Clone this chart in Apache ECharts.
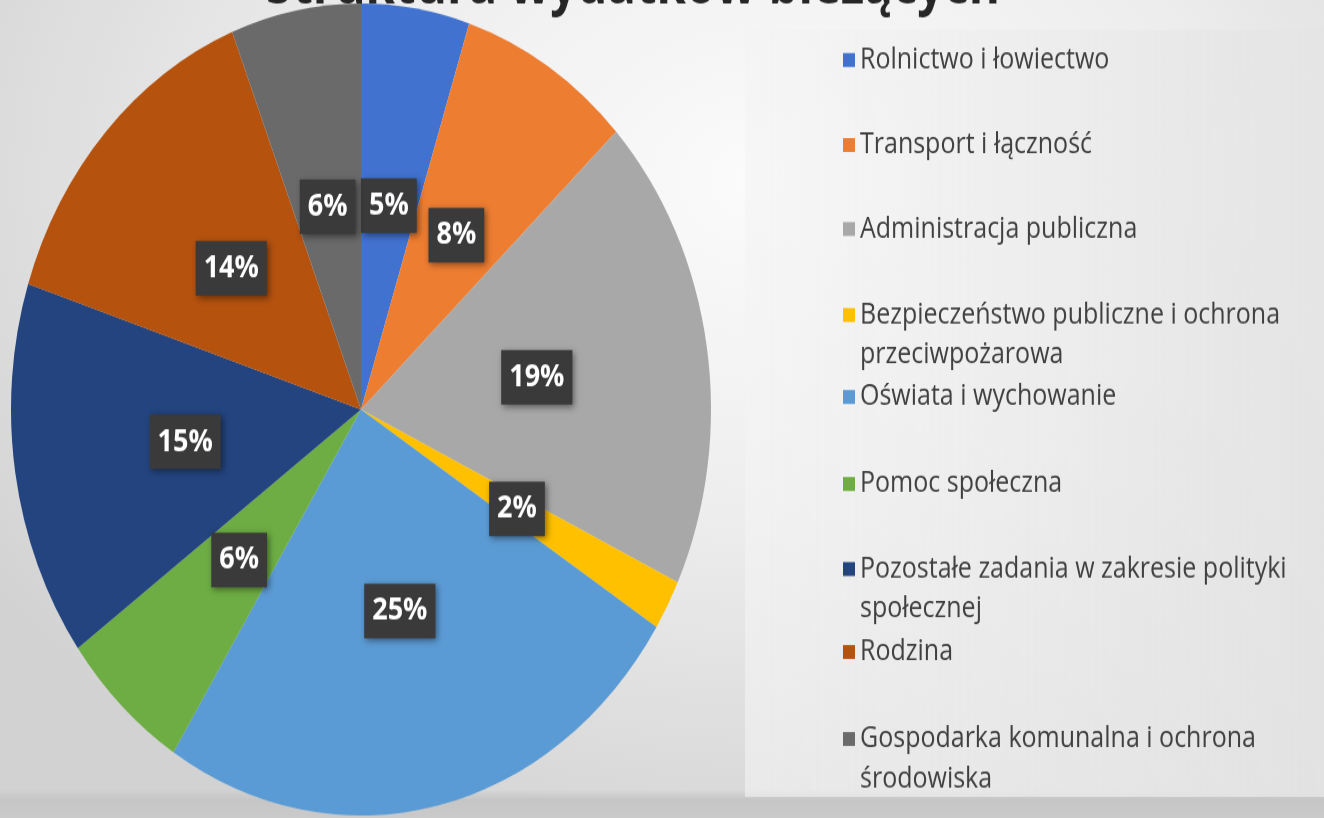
<!DOCTYPE html>
<html><head><meta charset="utf-8">
<script src="https://cdn.jsdelivr.net/npm/echarts@6/dist/echarts.min.js"></script>
<style>
html,body{margin:0;padding:0;width:1324px;height:818px;overflow:hidden;}
body{background:
  linear-gradient(to bottom, rgba(200,200,200,0) 0px, rgba(200,200,200,0) 790px, rgba(196,196,196,0.9) 800px, rgba(200,200,200,0.9) 818px),
  radial-gradient(ellipse 950px 720px at 58% 22%, #fbfbfb 0%, #eeeeee 45%, #d2d2d2 100%);}
#c{position:absolute;left:0;top:0;width:1324px;height:706px;transform:scaleY(1.16);transform-origin:0 0;}
</style></head><body><div id="c"></div>
<script>
const categories = [
  'Rolnictwo i łowiectwo',
  'Transport i łączność',
  'Administracja publiczna',
  'Bezpieczeństwo publiczne i ochrona przeciwpożarowa',
  'Oświata i wychowanie',
  'Pomoc społeczna',
  'Pozostałe zadania w zakresie polityki społecznej',
  'Rodzina',
  'Gospodarka komunalna i ochrona środowiska'
];
const values = [5, 8, 19, 2, 25, 6, 15, 14, 6];
const legendLabels = [
  'Rolnictwo i łowiectwo',
  'Transport i łączność',
  'Administracja publiczna',
  'Bezpieczeństwo publiczne i ochrona\nprzeciwpożarowa',
  'Oświata i wychowanie',
  'Pomoc społeczna',
  'Pozostałe zadania w zakresie polityki\nspołecznej',
  'Rodzina',
  'Gospodarka komunalna i ochrona\nśrodowiska'
];
const titleText = 'Struktura wydatków bieżących';
const colors = ['#4172D0','#ED7D31','#A8A8A8','#FFC000','#5B9BD5','#6DAD43','#23447F','#B5520E','#6A6A6A'];

// layout (screen px of reference, vertical stretch S applied by CSS)
const S = 1.16;
const legendFirstLine = [60, 145, 229, 315, 397, 484, 569, 652, 739];
const L = 40 / S;

const chart = echarts.init(document.getElementById('c'), null, {renderer: 'canvas'});

const legends = categories.map((name, i) => {
  const lines = legendLabels[i].split('\n').length;
  const c = legendFirstLine[i] / S;
  return {
    show: true,
    orient: 'vertical',
    left: 843,
    top: c - (lines === 1 ? L / 2 : 1.5 * L),
    padding: 0,
    itemWidth: 12,
    itemHeight: 12,
    icon: 'rect',
    selectedMode: false,
    data: [{name: name}],
    // a leading empty line keeps the marker level with the first text line
    formatter: () => (lines === 1 ? '' : '\n') + legendLabels[i],
    textStyle: {
      fontFamily: 'Open Sans',
      fontSize: 25,
      color: '#404040',
      lineHeight: L
    }
  };
});

chart.setOption({
  backgroundColor: 'transparent',
  animation: false,
  color: colors,
  title: {
    text: titleText,
    left: 628,
    textAlign: 'center',
    top: -40,
    textStyle: {fontFamily: 'Open Sans', fontWeight: 'bold', fontSize: 47.5, color: '#262626'}
  },
  graphic: [{
    type: 'rect', z: -10, silent: true,
    shape: {x: 745, y: 30 / S, width: 579, height: (797 - 30) / S},
    style: {fill: new echarts.graphic.LinearGradient(0, 0, 1, 0, [
      {offset: 0, color: 'rgba(244,244,244,0.6)'},
      {offset: 1, color: 'rgba(228,228,228,0.9)'}
    ])}
  }],
  legend: legends,
  series: [{
    type: 'pie',
    center: [361, 353],
    radius: 350,
    startAngle: 90,
    clockwise: true,
    avoidLabelOverlap: false,
    data: categories.map((n, i) => ({name: n, value: values[i]})),
    itemStyle: {borderWidth: 0},
    emphasis: {disabled: true},
    label: {
      show: true,
      position: 'inside',
      formatter: p => Math.round(p.percent) + '%',
      fontFamily: 'Open Sans',
      fontWeight: 'bold',
      fontSize: 27,
      lineHeight: 28,
      color: '#ffffff',
      backgroundColor: '#3a3a3a',
      padding: [10, 8, 9, 8],
      shadowColor: 'rgba(0,0,0,0.45)',
      shadowBlur: 6,
      shadowOffsetX: 2,
      shadowOffsetY: 2
    },
    labelLine: {show: false}
  }]
});
</script></body></html>
